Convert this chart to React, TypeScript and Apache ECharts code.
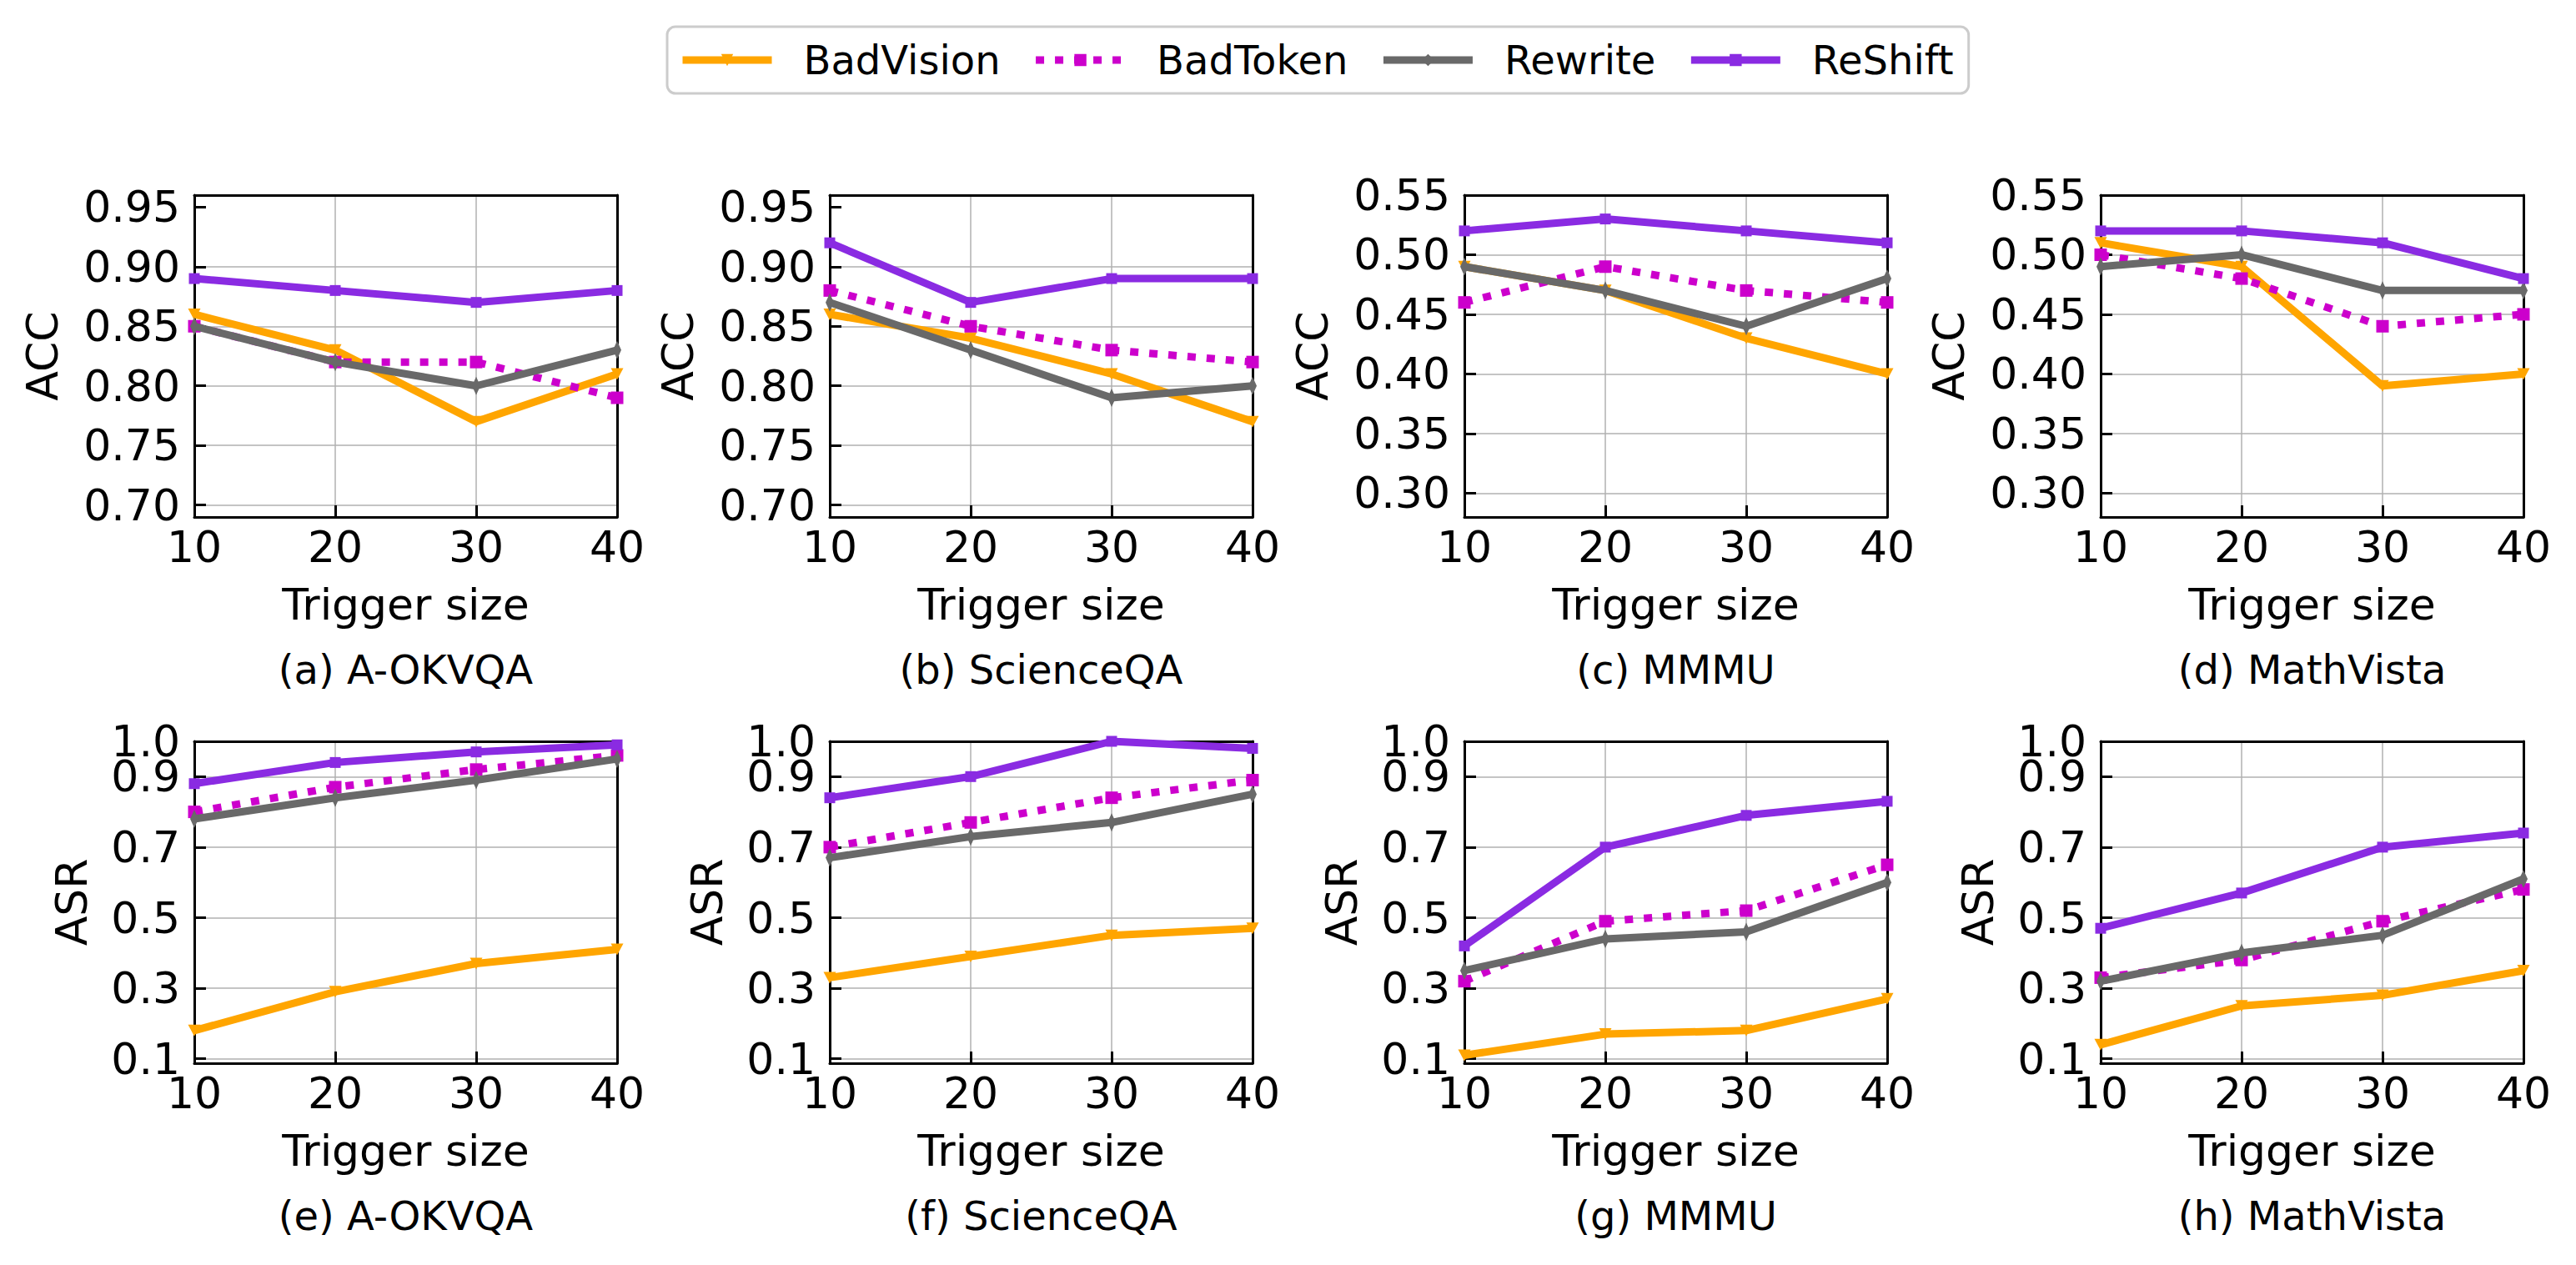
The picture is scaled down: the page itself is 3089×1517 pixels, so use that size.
import React, { useEffect, useRef } from "react";
import * as echarts from "echarts";

// Trigger sizes on the x axis of every panel
const triggerSizes = [10, 20, 30, 40];

const methods = ["BadVision", "BadToken", "Rewrite", "ReShift"];

// Clean accuracy (ACC) per dataset, one array per method
const okvqaAccBadVision = [0.86, 0.83, 0.77, 0.81];
const okvqaAccBadToken = [0.85, 0.82, 0.82, 0.79];
const okvqaAccRewrite = [0.85, 0.82, 0.8, 0.83];
const okvqaAccReShift = [0.89, 0.88, 0.87, 0.88];

const scienceqaAccBadVision = [0.86, 0.84, 0.81, 0.77];
const scienceqaAccBadToken = [0.88, 0.85, 0.83, 0.82];
const scienceqaAccRewrite = [0.87, 0.83, 0.79, 0.8];
const scienceqaAccReShift = [0.92, 0.87, 0.89, 0.89];

const mmmuAccBadVision = [0.49, 0.47, 0.43, 0.4];
const mmmuAccBadToken = [0.46, 0.49, 0.47, 0.46];
const mmmuAccRewrite = [0.49, 0.47, 0.44, 0.48];
const mmmuAccReShift = [0.52, 0.53, 0.52, 0.51];

const mathvistaAccBadVision = [0.51, 0.49, 0.39, 0.4];
const mathvistaAccBadToken = [0.5, 0.48, 0.44, 0.45];
const mathvistaAccRewrite = [0.49, 0.5, 0.47, 0.47];
const mathvistaAccReShift = [0.52, 0.52, 0.51, 0.48];

// Attack success rate (ASR) per dataset
const okvqaAsrBadVision = [0.18, 0.29, 0.37, 0.41];
const okvqaAsrBadToken = [0.8, 0.87, 0.92, 0.96];
const okvqaAsrRewrite = [0.78, 0.84, 0.89, 0.95];
const okvqaAsrReShift = [0.88, 0.94, 0.97, 0.99];

const scienceqaAsrBadVision = [0.33, 0.39, 0.45, 0.47];
const scienceqaAsrBadToken = [0.7, 0.77, 0.84, 0.89];
const scienceqaAsrRewrite = [0.67, 0.73, 0.77, 0.85];
const scienceqaAsrReShift = [0.84, 0.9, 1.0, 0.98];

const mmmuAsrBadVision = [0.11, 0.17, 0.18, 0.27];
const mmmuAsrBadToken = [0.32, 0.49, 0.52, 0.65];
const mmmuAsrRewrite = [0.35, 0.44, 0.46, 0.6];
const mmmuAsrReShift = [0.42, 0.7, 0.79, 0.83];

const mathvistaAsrBadVision = [0.14, 0.25, 0.28, 0.35];
const mathvistaAsrBadToken = [0.33, 0.38, 0.49, 0.58];
const mathvistaAsrRewrite = [0.32, 0.4, 0.45, 0.61];
const mathvistaAsrReShift = [0.47, 0.57, 0.7, 0.74];

// Y tick values
const accTicksHigh = [0.7, 0.75, 0.8, 0.85, 0.9, 0.95];
const accTicksLow = [0.3, 0.35, 0.4, 0.45, 0.5, 0.55];
const asrTicks = [0.1, 0.3, 0.5, 0.7, 0.9, 1.0];
// the top ASR tick sits right above 0.9, so its label lives on its own axis
const asrTopTick = [1.0];

const captions = [
  "(a) A-OKVQA",
  "(b) ScienceQA",
  "(c) MMMU",
  "(d) MathVista",
  "(e) A-OKVQA",
  "(f) ScienceQA",
  "(g) MMMU",
  "(h) MathVista",
];

const panelData = [
  [okvqaAccBadVision, okvqaAccBadToken, okvqaAccRewrite, okvqaAccReShift],
  [scienceqaAccBadVision, scienceqaAccBadToken, scienceqaAccRewrite, scienceqaAccReShift],
  [mmmuAccBadVision, mmmuAccBadToken, mmmuAccRewrite, mmmuAccReShift],
  [mathvistaAccBadVision, mathvistaAccBadToken, mathvistaAccRewrite, mathvistaAccReShift],
  [okvqaAsrBadVision, okvqaAsrBadToken, okvqaAsrRewrite, okvqaAsrReShift],
  [scienceqaAsrBadVision, scienceqaAsrBadToken, scienceqaAsrRewrite, scienceqaAsrReShift],
  [mmmuAsrBadVision, mmmuAsrBadToken, mmmuAsrRewrite, mmmuAsrReShift],
  [mathvistaAsrBadVision, mathvistaAsrBadToken, mathvistaAsrRewrite, mathvistaAsrReShift],
];

const FONT = "'DejaVu Sans', sans-serif";
const COLORS = ["#FFA500", "#CC00CC", "#696969", "#8A2BE2"];
const SYMBOLS = [
  "path://M-1,-1 L1,-1 L0,1 Z",
  "rect",
  "path://M0,-1 L0.45,0 L0,1 L-0.45,0 Z",
  "rect",
];
const SYMBOL_SIZES: any[] = [[15, 14], 15, [10, 22], 13];

const W = 3089;
const H = 1517;
const PLOT_LEFTS = [233, 995, 1756, 2519];
const PLOT_W = 507;
const PLOT_H = 386;
const ROW_TOPS = [234, 889];

const FRAME_LINE = { show: true, onZero: false, lineStyle: { color: "#000", width: 3 } };
const TICK_LABEL = {
  fontSize: 52,
  fontFamily: FONT,
  color: "#000",
  hideOverlap: false,
  showMinLabel: true,
  showMaxLabel: true,
};

export default function App() {
  const ref = useRef<HTMLDivElement>(null);

  useEffect(() => {
    if (!ref.current) return;
    const chart = echarts.init(ref.current, null, { renderer: "svg" });

    const grids: any[] = [];
    const xAxes: any[] = [];
    const yAxes: any[] = [];
    const extraX: any[] = [];
    const extraY: any[] = [];
    const series: any[] = [];
    const graphics: any[] = [];

    for (let p = 0; p < 8; p++) {
      const row = p < 4 ? 0 : 1;
      const col = p % 4;
      const left = PLOT_LEFTS[col];
      const top = ROW_TOPS[row];
      grids.push({
        left,
        top,
        width: PLOT_W,
        height: PLOT_H,
        show: false,
        outerBoundsMode: "none",
      });

      xAxes.push({
        type: "value",
        gridIndex: p,
        min: 10,
        max: 40,
        interval: 10,
        name: "Trigger size",
        nameLocation: "middle",
        nameGap: 79,
        nameTextStyle: { fontSize: 52, fontFamily: FONT, color: "#000" },
        axisLine: FRAME_LINE,
        axisTick: { show: true, inside: true, length: 14, lineStyle: { color: "#000", width: 3 } },
        axisLabel: { ...TICK_LABEL, margin: 10 },
        splitLine: {
          show: true,
          showMinLine: false,
          showMaxLine: false,
          lineStyle: { color: "#b0b0b0", width: 1.5 },
        },
      });

      let ticks: number[];
      let labelTicks: number[];
      let min: number;
      let max: number;
      let digits: number;
      let name: string;
      let nameGap: number;
      if (row === 0) {
        ticks = col < 2 ? accTicksHigh : accTicksLow;
        labelTicks = ticks;
        min = col < 2 ? 0.69 : 0.28;
        max = col < 2 ? 0.96 : 0.55;
        digits = 2;
        name = "ACC";
        nameGap = 156;
      } else {
        ticks = asrTicks;
        labelTicks = asrTicks.filter((t) => !asrTopTick.includes(t));
        min = 0.0875;
        max = 1.0;
        digits = 1;
        name = "ASR";
        nameGap = 121;
      }

      yAxes.push({
        type: "value",
        gridIndex: p,
        position: "left",
        min,
        max,
        name,
        nameLocation: "middle",
        nameGap,
        nameTextStyle: { fontSize: 52, fontFamily: FONT, color: "#000" },
        axisLine: FRAME_LINE,
        axisTick: {
          show: true,
          inside: true,
          length: 14,
          customValues: ticks,
          lineStyle: { color: "#000", width: 3 },
        },
        axisLabel: {
          ...TICK_LABEL,
          margin: 17,
          customValues: labelTicks,
          formatter: (v: number) => v.toFixed(digits),
        },
        splitLine: {
          show: true,
          showMaxLine: false,
          lineStyle: { color: "#b0b0b0", width: 1.5 },
        },
      });

      // top and right edges of the frame
      extraX.push({
        type: "value",
        gridIndex: p,
        position: "top",
        min: 10,
        max: 40,
        axisLine: FRAME_LINE,
        axisTick: { show: false },
        axisLabel: { show: false },
        splitLine: { show: false },
      });
      extraY.push({
        type: "value",
        gridIndex: p,
        position: "right",
        min,
        max,
        axisLine: FRAME_LINE,
        axisTick: { show: false },
        axisLabel: { show: false },
        splitLine: { show: false },
      });
      if (row === 1) {
        extraY.push({
          type: "value",
          gridIndex: p,
          position: "left",
          offset: 0,
          min,
          max,
          axisLine: { show: false },
          axisTick: { show: false, customValues: asrTopTick },
          axisLabel: {
            ...TICK_LABEL,
            margin: 17,
            customValues: asrTopTick,
            formatter: (v: number) => v.toFixed(1),
          },
          splitLine: { show: false },
        });
      }

      panelData[p].forEach((vals, m) => {
        series.push({
          type: "line",
          name: methods[m],
          xAxisIndex: p,
          yAxisIndex: p,
          data: triggerSizes.map((x, j) => [x, vals[j]]),
          symbol: SYMBOLS[m],
          symbolSize: SYMBOL_SIZES[m],
          showSymbol: true,
          clip: true,
          z: 2 + m,
          lineStyle: {
            color: COLORS[m],
            width: 9,
            type: m === 1 ? [10, 13] : "solid",
            cap: "butt",
          },
          itemStyle: { color: COLORS[m], borderWidth: 0 },
        });
      });

      graphics.push({
        type: "text",
        x: left + PLOT_W / 2,
        y: top + PLOT_H + 183,
        style: {
          text: captions[p],
          fontSize: 48,
          fontFamily: FONT,
          fill: "#000",
          align: "center",
          verticalAlign: "middle",
        },
      });
    }

    chart.setOption({
      animation: false,
      backgroundColor: "#fff",
      legend: {
        data: methods,
        left: 800,
        top: 32,
        orient: "horizontal",
        itemWidth: 107,
        itemHeight: 18,
        itemGap: 38,
        padding: [16, 18, 16, 14],
        borderColor: "#cccccc",
        borderWidth: 3,
        borderRadius: 10,
        backgroundColor: "#fff",
        lineStyle: { width: 9 },
        textStyle: {
          fontSize: 48,
          fontFamily: FONT,
          color: "#000",
          padding: [0, 0, 0, 33],
        },
      },
      grid: grids,
      xAxis: [...xAxes, ...extraX],
      yAxis: [...yAxes, ...extraY],
      series,
      graphic: graphics,
    });

    return () => chart.dispose();
  }, []);

  return (
    <div
      ref={ref}
      style={{ position: "absolute", left: 0, top: 0, width: W, height: H, background: "#fff" }}
    />
  );
}
